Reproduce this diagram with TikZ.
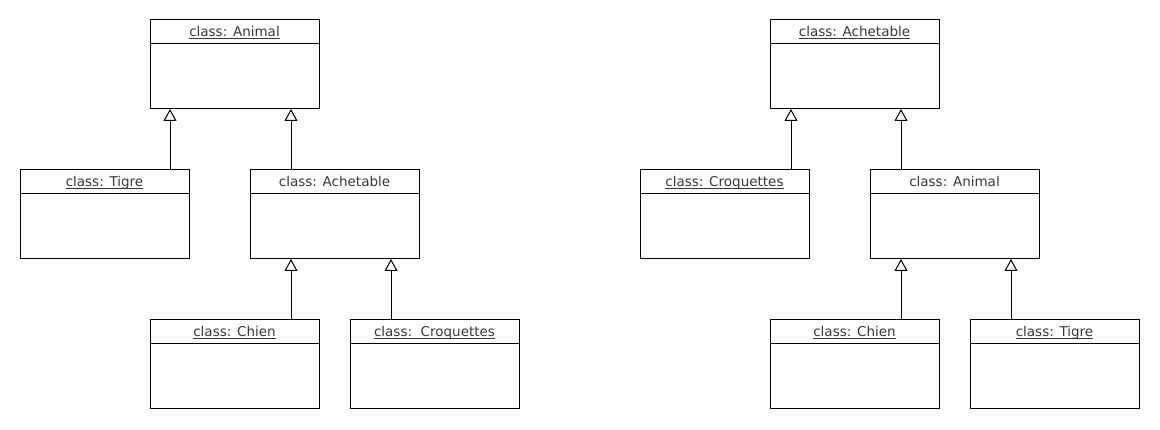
\documentclass[tikz,border=0pt]{standalone}
\usepackage{fontspec}
\setmainfont{DejaVu Sans}
\usetikzlibrary{arrows.meta,calc}
\definecolor{txt}{HTML}{383838}
\tikzset{
  cls/.style={draw=black, line width=1pt, fill=white, minimum width=169pt, minimum height=89pt, inner sep=0pt, outer sep=0pt, anchor=north west},
  hdr/.style={text=txt, font=\fontsize{13.5pt}{15pt}\selectfont, inner sep=0pt},
  inh/.style={line width=1pt, -{Triangle[open, width=13pt, length=12pt, line width=1pt]}},
}
\newcommand{\ul}[1]{{\setbox0\hbox{#1}\rlap{\raisebox{-2.2pt}{\rule{\wd0}{0.7pt}}}\box0}}
\newcommand{\classbox}[4]{% name, x, y, title
  \node[cls] (#1) at (#2,#3) {};
  \draw[line width=1pt] ([yshift=-24pt]#1.north west) -- ([yshift=-24pt]#1.north east);
  \node[hdr, anchor=base] (#1t) at ([yshift=-17pt]#1.north) {#4};
}
\begin{document}
\begin{tikzpicture}[x=1pt,y=-1pt]
\useasboundingbox[fill=white] (0,0) rectangle (1160,430);
% left diagram
\classbox{animalL}{150}{20}{\ul{class: Animal}}
\classbox{tigreL}{20}{170}{\ul{class: Tigre}}
\classbox{achetL}{250}{170}{class: Achetable}
\classbox{chienL}{150}{320}{\ul{class: Chien}}
\classbox{croqL}{350}{320}{\ul{class:\ \ Croquettes}}
% right diagram
\classbox{achetR}{770}{20}{\ul{class: Achetable}}
\classbox{croqR}{640}{170}{\ul{class: Croquettes}}
\classbox{animalR}{870}{170}{class: Animal}
\classbox{chienR}{770}{320}{\ul{class: Chien}}
\classbox{tigreR}{970}{320}{\ul{class: Tigre}}
% inheritance
\draw[inh] ([xshift=-19pt]tigreL.north east) -- ([xshift=-19pt]tigreL.north east |- animalL.south);
\draw[inh] ([xshift=41pt]achetL.north west) -- ([xshift=41pt]achetL.north west |- animalL.south);
\draw[inh] ([xshift=-28pt]chienL.north east) -- ([xshift=-28pt]chienL.north east |- achetL.south);
\draw[inh] ([xshift=41pt]croqL.north west) -- ([xshift=41pt]croqL.north west |- achetL.south);
\draw[inh] ([xshift=-18pt]croqR.north east) -- ([xshift=-18pt]croqR.north east |- achetR.south);
\draw[inh] ([xshift=31pt]animalR.north west) -- ([xshift=31pt]animalR.north west |- achetR.south);
\draw[inh] ([xshift=-38pt]chienR.north east) -- ([xshift=-38pt]chienR.north east |- animalR.south);
\draw[inh] ([xshift=41pt]tigreR.north west) -- ([xshift=41pt]tigreR.north west |- animalR.south);
\end{tikzpicture}
\end{document}
